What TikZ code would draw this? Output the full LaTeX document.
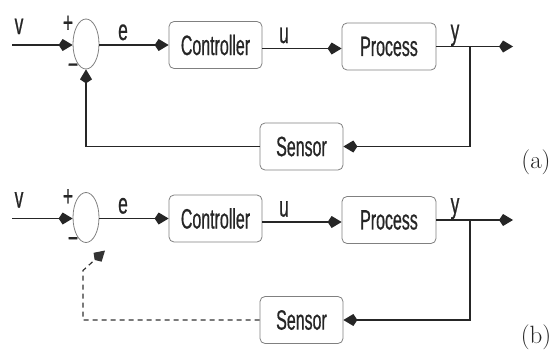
\documentclass[tikz,border=0pt]{standalone}
\usepackage{fontspec}
\newfontfamily\cond[FakeStretch=0.57,FakeBold=0.6]{Liberation Sans}
\newfontfamily\condl[FakeStretch=0.6,FakeBold=0.6]{Liberation Sans}
\usetikzlibrary{arrows.meta,shapes.geometric}
\begin{document}
\begin{tikzpicture}[x=1pt,y=-1pt,
  blk/.style={draw=black!50, line width=0.8pt, rounded corners=5pt, fill=white,
    minimum height=47pt, inner sep=0pt, text=black!85,
    font=\cond\fontsize{28}{28}\selectfont},
  sumj/.style={draw=black!50, line width=0.8pt, ellipse, minimum width=26pt,
    minimum height=50pt, inner sep=0pt},
  lbl/.style={inner sep=0pt, text=black!85, font=\condl\fontsize{29}{29}\selectfont},
  tip/.style={-{Kite[length=14pt,width=12pt,inset=4pt]}},
  sig/.style={line width=1.4pt, draw=black!85, tip},
  dsig/.style={line width=1.2pt, draw=black!80, dash pattern=on 5pt off 4pt, tip},
  tag/.style={inner sep=0pt, font=\fontsize{25}{25}\selectfont, text=black!85}]
\useasboundingbox (0,0) rectangle (556,356);

% ---------- (a) ----------
\node[sumj] (s) at (86,44) {};
\coordinate (vin) at (12,45);
\node[blk, minimum width=93pt] (c) at (215.5,45) {Controller};
\node[blk, minimum width=94pt] (p) at (389,46.5) {Process};
\node[blk, minimum width=83pt] (sen) at (301.5,146.5) {Sensor};
\coordinate (br) at (470,46.5);
\coordinate (out) at (513,46.5);
\draw[sig] (vin) -- (s.west |- vin);
\draw[sig] (s.east |- vin) -- (c.west);
\draw[sig] (c.east |- 0,48.5) -- (p.west |- 0,48.5);
\draw[sig] (p.east) -- (out);
\draw[sig] (br) |- (sen.east);
\draw[sig] (sen.west) -| (s.south);
\node[lbl, anchor=base] (lv) at (19,34) {v};
\node[lbl] (lp) at (68,24) {+};
\node[lbl] (lm) at (73,69) {\char"2212};
\node[lbl, anchor=base] (le) at (123,40) {e};
\node[lbl, anchor=base] (lu) at (284,43) {u};
\node[lbl, anchor=base] (ly) at (455,40) {y};
\node[tag] (ta) at (536,162.5) {(a)};

% ---------- (b) ----------
\begin{scope}[shift={(0,173.5)}]
\node[sumj] (s2) at (86,44) {};
\coordinate (vin2) at (12,45);
\node[blk, minimum width=93pt] (c2) at (215.5,45) {Controller};
\node[blk, minimum width=94pt] (p2) at (389,46.5) {Process};
\node[blk, minimum width=83pt] (sen2) at (301.5,146.5) {Sensor};
\coordinate (br2) at (470,46.5);
\coordinate (out2) at (513,46.5);
\coordinate (dk) at (83,97);
\coordinate (dt) at (105,77);
\draw[sig] (vin2) -- (s2.west |- vin2);
\draw[sig] (s2.east |- vin2) -- (c2.west);
\draw[sig] (c2.east |- 0,48.5) -- (p2.west |- 0,48.5);
\draw[sig] (p2.east) -- (out2);
\draw[sig] (br2) |- (sen2.east);
\draw[dsig] (sen2.west) -| (dk) -- (dt);
\node[lbl, anchor=base] (lv2) at (19,34) {v};
\node[lbl] (lp2) at (68,24) {+};
\node[lbl] (lm2) at (73,69) {\char"2212};
\node[lbl, anchor=base] (le2) at (123,40) {e};
\node[lbl, anchor=base] (lu2) at (284,43) {u};
\node[lbl, anchor=base] (ly2) at (455,40) {y};
\node[tag] (tb) at (536,164) {(b)};
\end{scope}
\end{tikzpicture}
\end{document}
